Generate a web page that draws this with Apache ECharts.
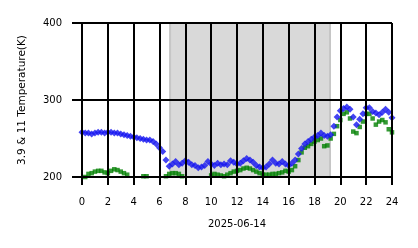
<!DOCTYPE html>
<html><head><meta charset="utf-8">
<script src="https://cdn.jsdelivr.net/npm/echarts@6/dist/echarts.min.js"></script>
<style>html,body{margin:0;padding:0;background:#fff}#c{width:418px;height:248px}</style>
</head><body><div id="c"></div>
<script>
// hours 0..24 every 15 minutes
const hours = Array.from({length: 97}, (_, i) => i * 0.25);
const temp39 = [258,257,257,256,257,258,258,257,258,258,257,257,256,255,254,253,252,251,250,249,248,248,246,243,238,233,222,214,217,220,216,218,221,219,216,215,212,213,215,220,217,215,218,216,217,216,221,219,217,218,221,224,222,219,215,213,212,213,217,222,218,217,220,217,215,218,222,230,237,243,246,249,252,254,257,254,253,255,266,278,286,289,291,288,278,268,275,282,290,290,285,283,281,284,288,284,277];
const temp11 = [198,200,204,205,207,208,208,206,205,208,210,209,207,205,203,198,196,196,198,201,201,199,197,197,196,198,201,204,205,205,204,201,198,197,196,196,196,197,198,199,202,204,203,202,201,203,205,207,208,209,211,212,211,209,207,205,203,203,203,204,204,205,206,208,207,209,214,222,232,238,240,243,246,248,250,240,241,250,256,266,274,282,284,276,259,257,265,272,282,282,276,268,272,274,271,262,258];
const xTicks = [0,2,4,6,8,10,12,14,16,18,20,22,24];
const yTicks = [200,300,400];
const shadeStart = 6.82, shadeEnd = 19.2;
const dateLabel = '2025-06-14';
const yName = '3.9 & 11 Temperature(K)';

const chart = echarts.init(document.getElementById('c'), null, {renderer: 'canvas'});
const font = 'DejaVu Sans';
chart.setOption({
  animation: false,
  backgroundColor: '#fff',
  grid: {left: 82, right: 26, top: 23, bottom: 71},
  xAxis: {
    type: 'value', min: xTicks[0], max: xTicks[xTicks.length-1], interval: 2, z: 10,
    axisLine: {show: true, lineStyle: {color: '#000', width: 2}},
    axisTick: {show: true, inside: false, length: 8, lineStyle: {color: '#000', width: 2}},
    axisLabel: {color: '#000', fontSize: 10, fontFamily: font, margin: 20},
    splitLine: {show: true, lineStyle: {color: '#000', width: 2}},
    name: dateLabel, nameLocation: 'middle', nameGap: 42,
    nameTextStyle: {color: '#000', fontSize: 10, fontFamily: font}
  },
  yAxis: {
    type: 'value', min: yTicks[0], max: yTicks[yTicks.length-1], interval: 100, z: 10,
    axisLine: {show: true, lineStyle: {color: '#000', width: 2}},
    axisTick: {show: true, inside: false, length: 10, lineStyle: {color: '#000', width: 2}},
    axisLabel: {color: '#000', fontSize: 10, fontFamily: font, margin: 20},
    splitLine: {show: true, lineStyle: {color: '#000', width: 2}},
    name: yName, nameLocation: 'middle', nameGap: 54, nameRotate: 90,
    nameTextStyle: {color: '#000', fontSize: 10.5, fontFamily: font}
  },
  series: [
    {
      type: 'scatter', name: '11', clip: true, z: 2,
      symbol: 'rect', symbolSize: 4.5,
      itemStyle: {color: '#008000'},
      data: hours.map((h, i) => [h, temp11[i]]),
      markArea: {
        silent: true,
        itemStyle: {color: '#d9d9d9', borderColor: '#c6c6c6', borderWidth: 2},
        data: [[{xAxis: shadeStart}, {xAxis: shadeEnd}]]
      }
    },
    {
      type: 'scatter', name: '3.9', clip: true, z: 3,
      symbol: 'diamond', symbolSize: 7,
      itemStyle: {color: '#1414f0'},
      data: hours.map((h, i) => [h, temp39[i]])
    }
  ]
});
</script></body></html>
